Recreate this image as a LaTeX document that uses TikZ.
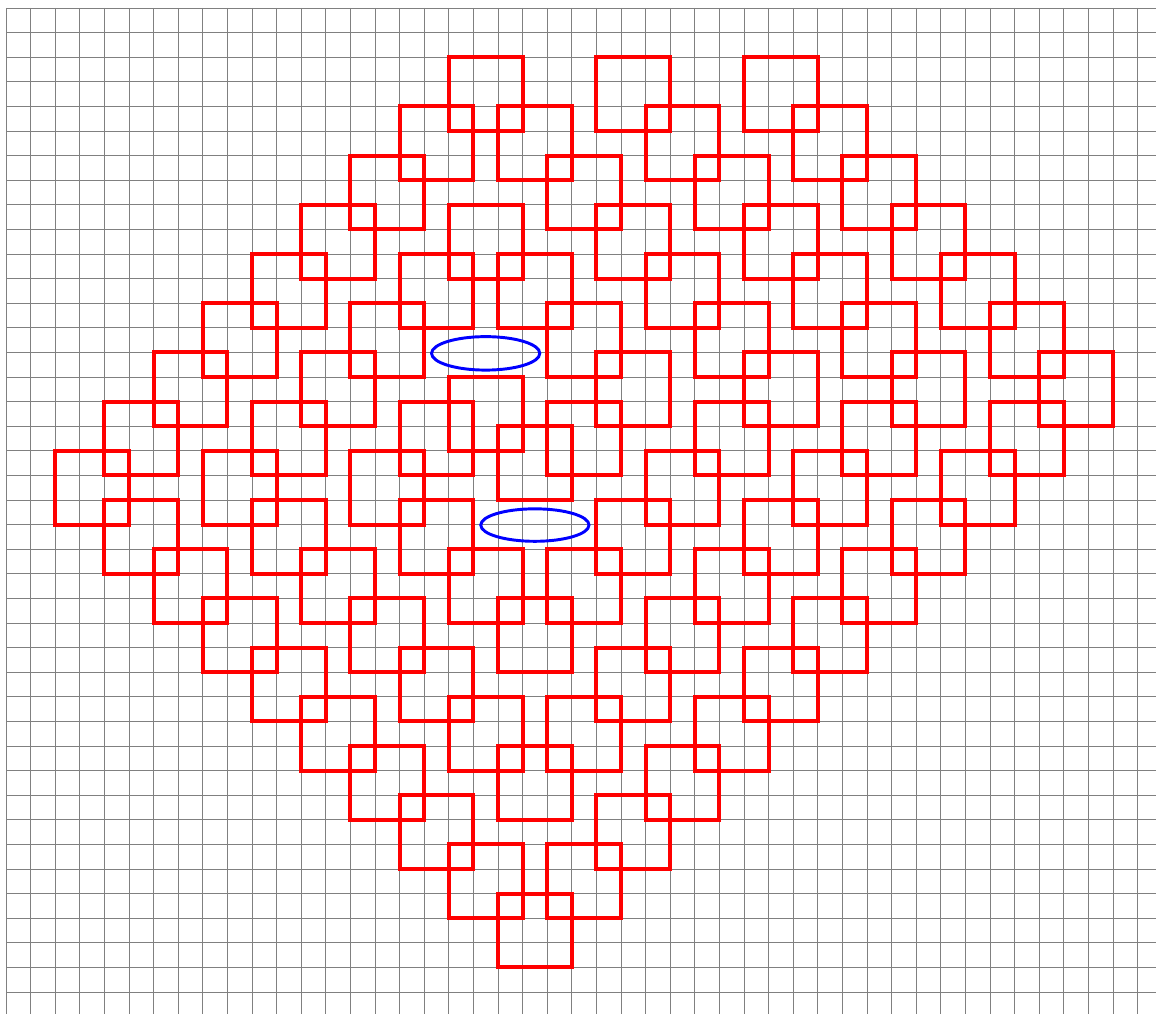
\documentclass[tikz,border=0pt]{standalone}
\begin{document}
\begin{tikzpicture}[x=1cm, y=-1cm,
    gridline/.style={gray, line width=0.8pt},
    tile/.style={red, line width=4.6pt},
    loop/.style={blue, line width=3.4pt}]
  \clip (-0.244,-0.325) rectangle (46.75,40.895);
  \foreach \i in {0,...,47} \draw[gridline] (\i,0) -- (\i,42);
  \foreach \j in {0,...,41} \draw[gridline] (0,\j) -- (48,\j);
  \foreach \r/\cs in {2/{18,24,30}, 4/{16,20,26,32}, 6/{14,22,28,34},
      8/{12,18,24,30,36}, 10/{10,16,20,26,32,38}, 12/{8,14,22,28,34,40},
      14/{6,12,24,30,36,42}, 15/{18}, 16/{4,10,16,22,28,34,40}, 17/{20},
      18/{2,8,14,26,32,38}, 20/{4,10,16,24,30,36}, 22/{6,12,18,22,28,34},
      24/{8,14,20,26,32}, 26/{10,16,24,30}, 28/{12,18,22,28},
      30/{14,20,26}, 32/{16,24}, 34/{18,22}, 36/{20}}
    \foreach \c in \cs \draw[tile] (\c,\r) rectangle ++(3,3);
  \draw[loop] (19.5,14.04) ellipse (2.2 and 0.68);
  \draw[loop] (21.5,21.02) ellipse (2.2 and 0.66);
\end{tikzpicture}
\end{document}
